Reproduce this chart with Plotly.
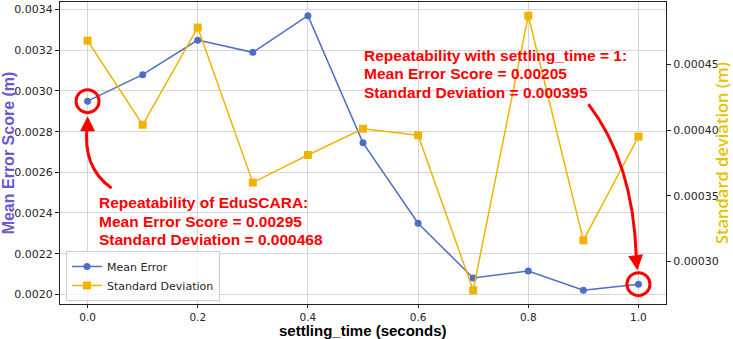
import plotly.graph_objects as go

# ---------------- data ----------------
settling_time = [0.0, 0.1, 0.2, 0.3, 0.4, 0.5, 0.6, 0.7, 0.8, 0.9, 1.0]
mean_error = [0.00295, 0.00308, 0.00325, 0.00319, 0.00337, 0.002745,
              0.00235, 0.00208, 0.002115, 0.00202, 0.00205]
std_dev = [0.000468, 0.000404, 0.000478, 0.00036, 0.000381, 0.000401,
           0.000396, 0.000278, 0.000487, 0.000316, 0.000395]
y1_ticks = [0.0020, 0.0022, 0.0024, 0.0026, 0.0028, 0.0030, 0.0032, 0.0034]
y2_ticks = [0.00030, 0.00035, 0.00040, 0.00045]
x_ticks = [0.0, 0.2, 0.4, 0.6, 0.8, 1.0]
note_left = ["Repeatability of EduSCARA:", "Mean Error Score = 0.00295",
             "Standard Deviation = 0.000468"]
note_right = ["Repeatability with settling_time = 1:", "Mean Error Score = 0.00205",
              "Standard Deviation = 0.000395"]

BLUE = "#4C6FC5"
GOLD = "#F0B400"
RED = "#FF0000"

W, H = 733, 339
L, R, T, B = 60, 67, 2, 35
PW, PH = W - L - R, H - T - B


def padded(vals, m=0.05):
    lo, hi = min(vals), max(vals)
    d = hi - lo
    return [lo - m * d, hi + m * d]


xr = padded(settling_time)
y1r = padded(mean_error)
y2r = padded(std_dev)


def x2px(x):
    return L + (x - xr[0]) / (xr[1] - xr[0]) * PW


def y2py(y):
    return T + (y1r[1] - y) / (y1r[1] - y1r[0]) * PH


def px2x(px):
    return xr[0] + (px - L) / PW * (xr[1] - xr[0])


def py2y(py):
    return y1r[1] - (py - T) / PH * (y1r[1] - y1r[0])


fig = go.Figure()
fig.add_trace(go.Scatter(
    x=settling_time, y=mean_error, name="Mean Error", mode="lines+markers",
    line=dict(color=BLUE, width=1.5), marker=dict(color=BLUE, size=7, symbol="circle"),
    yaxis="y"))
fig.add_trace(go.Scatter(
    x=settling_time, y=std_dev, name="Standard Deviation", mode="lines+markers",
    line=dict(color=GOLD, width=1.5), marker=dict(color=GOLD, size=8, symbol="square"),
    yaxis="y2"))

shapes = []
annotations = []


def highlight(i, start_off, ctrl_off, tip_off, tail_off):
    px, py = x2px(settling_time[i]), y2py(mean_error[i])
    shapes.append(dict(type="circle", xref="x", yref="y", xsizemode="pixel", ysizemode="pixel",
                       xanchor=settling_time[i], yanchor=mean_error[i],
                       x0=-11.5, x1=11.5, y0=-11.5, y1=11.5,
                       line=dict(color=RED, width=3)))
    sx, sy = px + start_off[0], py + start_off[1]
    cx, cy = px + ctrl_off[0], py + ctrl_off[1]
    tx, ty = px + tip_off[0], py + tip_off[1]
    ex, ey = tx + tail_off[0], ty + tail_off[1]
    path = "M {},{} Q {},{} {},{}".format(px2x(sx), py2y(sy), px2x(cx), py2y(cy), px2x(ex), py2y(ey))
    shapes.append(dict(type="path", xref="x", yref="y", path=path,
                       line=dict(color=RED, width=3)))
    annotations.append(dict(x=px2x(tx), y=py2y(ty), xref="x", yref="y", text="",
                            showarrow=True, ax=tail_off[0] * 1.3, ay=tail_off[1] * 1.3,
                            arrowhead=2, arrowsize=1, arrowwidth=3, arrowcolor=RED))


highlight(0, (24, 87), (-6, 66), (0, 15), (0, 8))
highlight(10, (-50, -180), (-4, -120), (-1, -14), (-1, -8))

note_font = dict(family="Liberation Sans, Arial", size=15.5, color=RED, weight="bold")


def note(lines, left_px, first_py, step=18.5):
    for k, s in enumerate(lines):
        annotations.append(dict(x=px2x(left_px), y=py2y(first_py + k * step), xref="x", yref="y",
                                xanchor="left", yanchor="middle", align="left",
                                showarrow=False, text=s, font=note_font))


note(note_left, 97, 202.5)
note(note_right, 362, 55)

# x-axis title placed just below the tick labels
annotations.append(dict(x=0.5, y=(PH + T - 330.5) / PH, xref="paper", yref="paper",
                        xanchor="center", yanchor="middle", showarrow=False, borderpad=0,
                        text="settling_time (seconds)",
                        font=dict(family="Liberation Sans, Arial", size=15,
                                  color="black", weight="bold")))

tick_font = dict(family="DejaVu Sans", size=10.5, color="#262626")

fig.update_layout(
    width=W, height=H,
    margin=dict(l=L, r=R, t=T, b=B, autoexpand=False),
    paper_bgcolor="white", plot_bgcolor="white",
    shapes=shapes, annotations=annotations,
    showlegend=True,
    legend=dict(x=0.01, y=0.01, xanchor="left", yanchor="bottom",
                bgcolor="rgba(255,255,255,0.8)", bordercolor="#cccccc", borderwidth=1,
                font=dict(family="DejaVu Sans", size=11, color="#262626"),
                tracegroupgap=0, itemwidth=30),
    xaxis=dict(range=xr, tickvals=x_ticks, ticktext=["{:.1f}".format(v) for v in x_ticks],
               showgrid=True, gridcolor="#d6d6d6", gridwidth=1, zeroline=False,
               showline=True, linecolor="#222222", linewidth=1, mirror=True,
               ticks="outside", ticklen=3, tickcolor="#222222", tickfont=tick_font),
    yaxis=dict(range=y1r, tickvals=y1_ticks, ticktext=["{:.4f}".format(v) for v in y1_ticks],
               showgrid=True, gridcolor="#d6d6d6", gridwidth=1, zeroline=False,
               showline=True, linecolor="#222222", linewidth=1, mirror=True,
               ticks="outside", ticklen=4, tickcolor="#222222",
               tickfont=dict(family="DejaVu Sans", size=11, color="#262626"),
               title=dict(text="Mean Error Score (m)", standoff=2,
                          font=dict(family="Liberation Sans, Arial", size=16,
                                    color="#6A5ACD", weight="bold"))),
    yaxis2=dict(range=y2r, tickvals=y2_ticks, ticktext=["{:.5f}".format(v) for v in y2_ticks],
                overlaying="y", side="right", showgrid=False, zeroline=False,
                showline=True, linecolor="#222222", linewidth=1,
                ticks="outside", ticklen=4, tickcolor="#222222",
                tickfont=dict(family="DejaVu Sans", size=11, color="#262626"),
                title=dict(text="Standard deviation (m)", standoff=2,
                           font=dict(family="Open Sans", size=16.5,
                                     color="#E8C100", weight=600))),
)

fig.write_html("out.html")
